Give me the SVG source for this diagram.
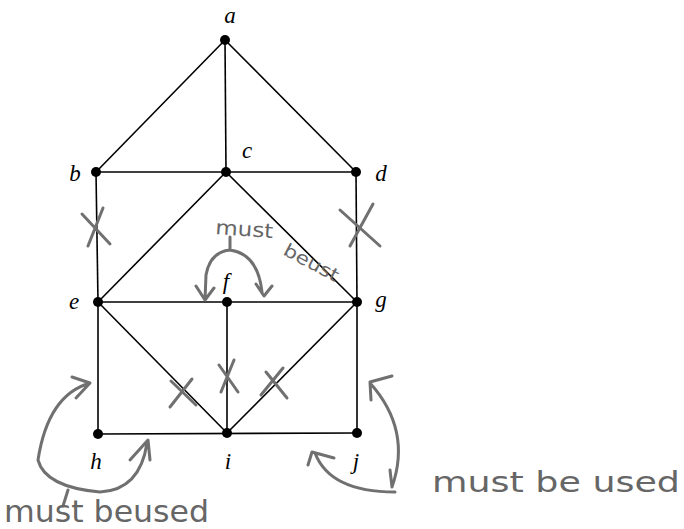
<svg xmlns="http://www.w3.org/2000/svg" width="684" height="529" viewBox="0 0 684 529">
<defs>
<style>
.edge{stroke:#000;stroke-width:1.6;fill:none}
.dot{fill:#000}
.lbl{font-family:"Liberation Serif",serif;font-style:italic;font-size:23px;fill:#000;text-anchor:middle}
.pen{stroke:#707070;stroke-width:3;fill:none;stroke-linecap:round;stroke-linejoin:round}
.hand{font-family:"DejaVu Sans","Liberation Sans",sans-serif;fill:#666}
</style>
</defs>
<rect width="684" height="529" fill="#fff"/>
<g id="connectors">
<line class="edge" x1="225" y1="40" x2="96" y2="172"/>
<line class="edge" x1="225" y1="40" x2="226" y2="172"/>
<line class="edge" x1="225" y1="40" x2="356" y2="172"/>
<line class="edge" x1="96" y1="172" x2="356" y2="172"/>
<line class="edge" x1="96" y1="172" x2="98" y2="302"/>
<line class="edge" x1="356" y1="172" x2="357" y2="302"/>
<line class="edge" x1="226" y1="172" x2="98" y2="302"/>
<line class="edge" x1="226" y1="172" x2="357" y2="302"/>
<line class="edge" x1="98" y1="302" x2="357" y2="302"/>
<line class="edge" x1="98" y1="302" x2="98" y2="434"/>
<line class="edge" x1="357" y1="302" x2="357" y2="433"/>
<line class="edge" x1="98" y1="302" x2="227" y2="433"/>
<line class="edge" x1="227" y1="302" x2="227" y2="433"/>
<line class="edge" x1="357" y1="302" x2="227" y2="433"/>
<line class="edge" x1="98" y1="434" x2="357" y2="433"/>
</g>
<g id="a"><circle class="dot" cx="225" cy="40" r="5"/><text class="lbl" x="230" y="23">a</text></g>
<g id="b"><circle class="dot" cx="96" cy="172" r="5"/><text class="lbl" x="75" y="181">b</text></g>
<g id="c"><circle class="dot" cx="226" cy="172" r="5"/><text class="lbl" x="247" y="158">c</text></g>
<g id="d"><circle class="dot" cx="356" cy="172" r="5"/><text class="lbl" x="381" y="181">d</text></g>
<g id="e"><circle class="dot" cx="98" cy="302" r="5"/><text class="lbl" x="74" y="309">e</text></g>
<g id="f"><circle class="dot" cx="227" cy="302" r="5"/><text class="lbl" x="226" y="289">f</text></g>
<g id="g"><circle class="dot" cx="357" cy="302" r="5"/><text class="lbl" x="381" y="307">g</text></g>
<g id="h"><circle class="dot" cx="98" cy="434" r="5"/><text class="lbl" x="96" y="469">h</text></g>
<g id="i"><circle class="dot" cx="227" cy="433" r="5"/><text class="lbl" x="228" y="469">i</text></g>
<g id="j"><circle class="dot" cx="357" cy="433" r="5"/><text class="lbl" x="356" y="469">j</text></g>
<g id="annotations">
<path class="pen" d="M82 214 L110 244 M103 208 L88 246"/>
<path class="pen" d="M340 210 L380 246 M373 204 L350 246"/>
<path class="pen" d="M170 407 L192 379 M171 381 L196 405"/>
<path class="pen" d="M219 365 L238 392 M234 360 L221 392"/>
<path class="pen" d="M261 395 L283 368 M266 372 L287 398"/>
<text class="hand" x="215" y="234" font-size="20" textLength="58" lengthAdjust="spacingAndGlyphs" transform="rotate(4 215 234)">must</text>
<text class="hand" x="282" y="254" font-size="18" textLength="60" lengthAdjust="spacingAndGlyphs" transform="rotate(28 282 254)">beust</text>
<path class="pen" d="M230 237 L230 250 M230 250 Q210 252 206 275 L205 300 M196 286 L205 300 L214 288 M230 250 Q258 254 262 292 M256 284 L264 296 L272 286"/>
<path class="pen" d="M90 383 Q48 395 38 460 Q45 487 100 492 Q140 490 147 443 M130 460 L148 440 L150 460 M72 377 L90 383 L76 398 M63 506 L68 490"/>
<path class="pen" d="M315 453 Q330 492 395 492 M308 465 L312 452 L334 458 M392 487 Q412 430 370 383 M371 400 L370 382 L392 376 M392 487 L390 470"/>
<text class="hand" x="4" y="522" font-size="30" textLength="205" lengthAdjust="spacingAndGlyphs">must beused</text>
<text class="hand" x="432" y="492" font-size="29" textLength="248" lengthAdjust="spacingAndGlyphs">must  be used</text>
</g>
</svg>
